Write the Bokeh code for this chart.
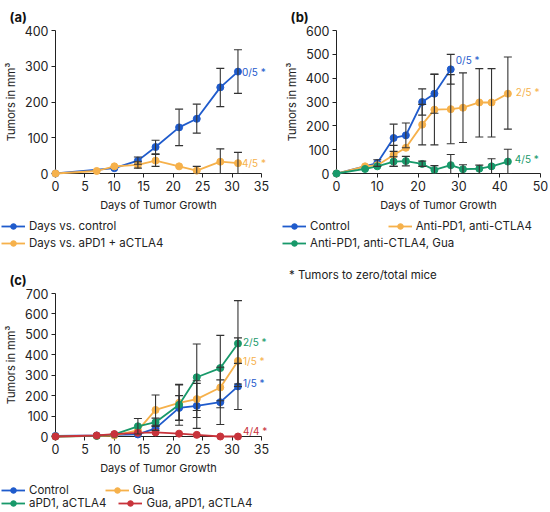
from bokeh.plotting import figure
from bokeh.models import (Range1d, Legend, LegendItem, Whisker, ColumnDataSource,
                          Div, TeeHead)
from bokeh.core.properties import value
from bokeh.layouts import row, column
from bokeh.embed import file_html
from bokeh.resources import INLINE

FONT = "Inter"
BLUE = "#1f5bcc"
ORANGE = "#f6b14b"
GREEN = "#18996a"
RED = "#c8333b"
BAR = "#333333"

# ---------------- Panel (a) ----------------
A_XTICKS = [0, 5, 10, 15, 20, 25, 30, 35]
A_YTICKS = [0, 100, 200, 300, 400]
A_CTRL_DAYS = [0, 10, 14, 17, 21, 24, 28, 31]
A_CTRL_MEAN = [0, 15, 36, 74, 129, 153, 241, 285]
A_CTRL_ERR_DAYS = [14, 17, 21, 24, 28, 31]
A_CTRL_LO = [26, 53, 78, 113, 187, 224]
A_CTRL_HI = [46, 93, 180, 194, 294, 346]
A_TRT_DAYS = [0, 7, 10, 14, 17, 21, 24, 28, 31]
A_TRT_MEAN = [0, 7, 20, 24, 36, 20, 8, 33, 29]
A_TRT_ERR_DAYS = [14, 17, 24, 28, 31]
A_TRT_LO = [15, 20, 0, 0, 0]
A_TRT_HI = [33, 55, 20, 69, 59]

# ---------------- Panel (b) ----------------
B_XTICKS = [0, 10, 20, 30, 40, 50]
B_YTICKS = [0, 100, 200, 300, 400, 500, 600]
B_CTRL_DAYS = [0, 10, 14, 17, 21, 24, 28]
B_CTRL_MEAN = [0, 44, 149, 160, 300, 335, 437]
B_CTRL_ERR_DAYS = [10, 14, 17, 21, 24, 28]
B_CTRL_LO = [30, 93, 108, 245, 253, 375]
B_CTRL_HI = [58, 207, 212, 355, 417, 500]
B_AB_DAYS = [0, 7, 10, 14, 17, 21, 24, 28, 31, 35, 38, 42]
B_AB_MEAN = [0, 30, 35, 78, 108, 205, 268, 270, 276, 298, 298, 335]
B_AB_ERR_DAYS = [14, 21, 24, 28, 31, 35, 38, 42]
B_AB_LO = [30, 120, 120, 125, 130, 153, 153, 186]
B_AB_HI = [118, 290, 416, 415, 422, 440, 440, 489]
B_GUA_DAYS = [0, 7, 10, 14, 17, 21, 24, 28, 31, 35, 38, 42]
B_GUA_MEAN = [0, 19, 30, 50, 52, 40, 15, 35, 18, 20, 30, 50]
B_GUA_ERR_DAYS = [14, 17, 21, 24, 28, 31, 35, 38, 42]
B_GUA_LO = [30, 32, 30, 0, 0, 0, 0, 0, 0]
B_GUA_HI = [70, 72, 52, 33, 80, 37, 35, 62, 102]

# ---------------- Panel (c) ----------------
C_XTICKS = [0, 5, 10, 15, 20, 25, 30, 35]
C_YTICKS = [0, 100, 200, 300, 400, 500, 600, 700]
C_DAYS = [0, 7, 10, 14, 17, 21, 24, 28, 31]
C_CTRL_MEAN = [3, 5, 8, 10, 40, 140, 150, 168, 245]
C_GUA_MEAN = [0, 3, 5, 30, 130, 165, 183, 240, 370]
C_AB_MEAN = [0, 3, 10, 50, 70, 155, 290, 335, 455]
C_ABG_MEAN = [0, 5, 12, 18, 20, 14, 8, 0, 0]
C_CTRL_ERR_DAYS = [17, 21, 24, 28, 31]
C_CTRL_LO = [30, 80, 40, 59, 132]
C_CTRL_HI = [50, 200, 260, 277, 358]
C_GUA_ERR_DAYS = [17, 21, 24, 28, 31]
C_GUA_LO = [55, 78, 93, 141, 257]
C_GUA_HI = [203, 252, 273, 339, 483]
C_AB_ERR_DAYS = [14, 17, 21, 24, 28, 31]
C_AB_LO = [12, 50, 55, 127, 175, 245]
C_AB_HI = [88, 90, 255, 453, 495, 665]

Y_LABEL = "Tumors in mm\u00b3"
X_LABEL = "Days of Tumor Growth"
NOTE = "* Tumors to zero/total mice"
NAN = float("nan")


def make_fig(title, xmax, ymax, xticks, yticks, fw, fh, top, right):
    p = figure(frame_width=fw, frame_height=fh,
               x_range=Range1d(0, xmax), y_range=Range1d(0, ymax),
               output_backend="svg", toolbar_location=None,
               min_border_left=46, min_border_right=right,
               min_border_top=top, min_border_bottom=0, title=title)
    p.frame_align = False
    p.title.text_font = FONT
    p.title.text_font_size = "13px"
    p.title.text_font_style = "bold"
    p.title.text_color = "#111111"
    p.title.align = "left"
    p.title.offset = -46
    p.title.standoff = 12
    p.xgrid.visible = False
    p.ygrid.visible = False
    p.outline_line_color = None
    p.background_fill_color = None
    p.xaxis.ticker = xticks
    p.yaxis.ticker = yticks
    p.xaxis.axis_label = X_LABEL
    p.yaxis.axis_label = Y_LABEL
    for ax in (p.xaxis, p.yaxis):
        ax.axis_line_color = "#222222"
        ax.axis_line_width = 1
        ax.major_tick_line_color = "#222222"
        ax.major_tick_out = 4
        ax.major_tick_in = 0
        ax.minor_tick_line_color = None
        ax.major_label_text_font = FONT
        ax.major_label_text_font_size = "12.5px"
        ax.major_label_text_color = "#222222"
        ax.axis_label_text_font = FONT
        ax.axis_label_text_font_size = "11px"
        ax.axis_label_text_font_style = "normal"
        ax.axis_label_text_color = "#222222"
        ax.major_label_standoff = 3
        ax.axis_label_standoff = 4
    return p


def series(p, days, mean, color, err_days=None, lo=None, hi=None):
    if err_days:
        src = ColumnDataSource(dict(x=err_days, lo=lo, hi=hi))
        w = Whisker(source=src, base="x", lower="lo", upper="hi",
                    line_color=BAR, line_width=1.1, level="overlay",
                    upper_head=TeeHead(size=8, line_color=BAR, line_width=1.1),
                    lower_head=TeeHead(size=8, line_color=BAR, line_width=1.1))
        p.add_layout(w)
    p.line(days, mean, line_color=color, line_width=1.8, level="overlay")
    p.scatter(days, mean, size=7, fill_color=color, line_color=color,
              level="overlay")


def tag(p, days, mean, text, color, xo=4, yo=0):
    p.text(x=[days[-1]], y=[mean[-1]], text=[text], x_offset=xo, y_offset=-yo,
           text_color=color, text_font=value(FONT), text_font_size="10px",
           text_baseline="middle", level="overlay")


def legend_fig(width, height, rows):
    # rows: list of (vx, vy, spacing, [(label, color), ...])
    lf = figure(width=width, height=height, x_range=Range1d(0, 1),
                y_range=Range1d(0, 1), output_backend="svg",
                toolbar_location=None, x_axis_type=None, y_axis_type=None,
                min_border=0)
    lf.frame_align = False
    lf.outline_line_color = None
    lf.xgrid.visible = False
    lf.ygrid.visible = False
    for vx, vy, spacing, items in rows:
        litems = []
        for label, color in items:
            # legend-only renderers: no visible data
            ln = lf.line([NAN], [NAN], line_color=color, line_width=1.8)
            sc = lf.scatter([NAN], [NAN], size=6, fill_color=color, line_color=color)
            litems.append(LegendItem(label=label, renderers=[ln, sc]))
        leg = Legend(items=litems, orientation="horizontal", location=(vx, vy),
                     padding=0, margin=0, spacing=spacing,
                     border_line_color=None, background_fill_alpha=0,
                     label_text_font=FONT, label_text_font_size="11.5px",
                     label_text_color="#222222", label_standoff=4,
                     glyph_width=24, glyph_height=14, label_height=14)
        lf.add_layout(leg, "center")
    return lf


# ---- panel a
pa = make_fig("(a)", 35, 400, A_XTICKS, A_YTICKS, 206, 143, 0, 20)
series(pa, A_CTRL_DAYS, A_CTRL_MEAN, BLUE, A_CTRL_ERR_DAYS, A_CTRL_LO, A_CTRL_HI)
series(pa, A_TRT_DAYS, A_TRT_MEAN, ORANGE, A_TRT_ERR_DAYS, A_TRT_LO, A_TRT_HI)
tag(pa, A_CTRL_DAYS, A_CTRL_MEAN, "0/5 *", BLUE)
tag(pa, A_TRT_DAYS, A_TRT_MEAN, "4/5 *", ORANGE)
la = legend_fig(272, 36, [(1, 17, 10, [("Days vs. control", BLUE)]),
                          (1, 0, 10, [("Days vs. aPD1 + aCTLA4", ORANGE)])])

# ---- panel b
pb = make_fig("(b)", 50, 600, B_XTICKS, B_YTICKS, 204, 143, 0, 12)
series(pb, B_CTRL_DAYS, B_CTRL_MEAN, BLUE, B_CTRL_ERR_DAYS, B_CTRL_LO, B_CTRL_HI)
series(pb, B_AB_DAYS, B_AB_MEAN, ORANGE, B_AB_ERR_DAYS, B_AB_LO, B_AB_HI)
series(pb, B_GUA_DAYS, B_GUA_MEAN, GREEN, B_GUA_ERR_DAYS, B_GUA_LO, B_GUA_HI)
tag(pb, B_CTRL_DAYS, B_CTRL_MEAN, "0/5 *", BLUE, 5, 9)
tag(pb, B_AB_DAYS, B_AB_MEAN, "2/5 *", ORANGE, 8, 2)
tag(pb, B_GUA_DAYS, B_GUA_MEAN, "4/5 *", GREEN, 7, 3)
lb = legend_fig(262, 36, [(1, 17, 38, [("Control", BLUE), ("Anti-PD1, anti-CTLA4", ORANGE)]),
                          (1, 0, 10, [("Anti-PD1, anti-CTLA4, Gua", GREEN)])])

# ---- panel c
pc = make_fig("(c)", 35, 700, C_XTICKS, C_YTICKS, 206, 143, 43, 20)
series(pc, C_DAYS, C_CTRL_MEAN, BLUE, C_CTRL_ERR_DAYS, C_CTRL_LO, C_CTRL_HI)
series(pc, C_DAYS, C_GUA_MEAN, ORANGE, C_GUA_ERR_DAYS, C_GUA_LO, C_GUA_HI)
series(pc, C_DAYS, C_AB_MEAN, GREEN, C_AB_ERR_DAYS, C_AB_LO, C_AB_HI)
series(pc, C_DAYS, C_ABG_MEAN, RED)
tag(pc, C_DAYS, C_AB_MEAN, "2/5 *", GREEN, 5, 2)
tag(pc, C_DAYS, C_GUA_MEAN, "1/5 *", ORANGE, 5, 0)
tag(pc, C_DAYS, C_CTRL_MEAN, "1/5 *", BLUE, 5, 3)
tag(pc, C_DAYS, C_ABG_MEAN, "4/4 *", RED, 5, 6)
lc = legend_fig(272, 33, [(1, 13, 36, [("Control", BLUE), ("Gua", ORANGE)]),
                          (1, 0, 12, [("aPD1, aCTLA4", GREEN), ("Gua, aPD1, aCTLA4", RED)])])

note = Div(text=NOTE, width=250, height=40,
           styles={"font-family": FONT, "font-size": "11.5px", "color": "#222222",
                   "padding-top": "12px", "padding-left": "3px"})

layout = column(row(column(pa, la), column(pb, lb)), row(column(pc, lc), note))
open("out.html", "w").write(file_html(layout, INLINE))
